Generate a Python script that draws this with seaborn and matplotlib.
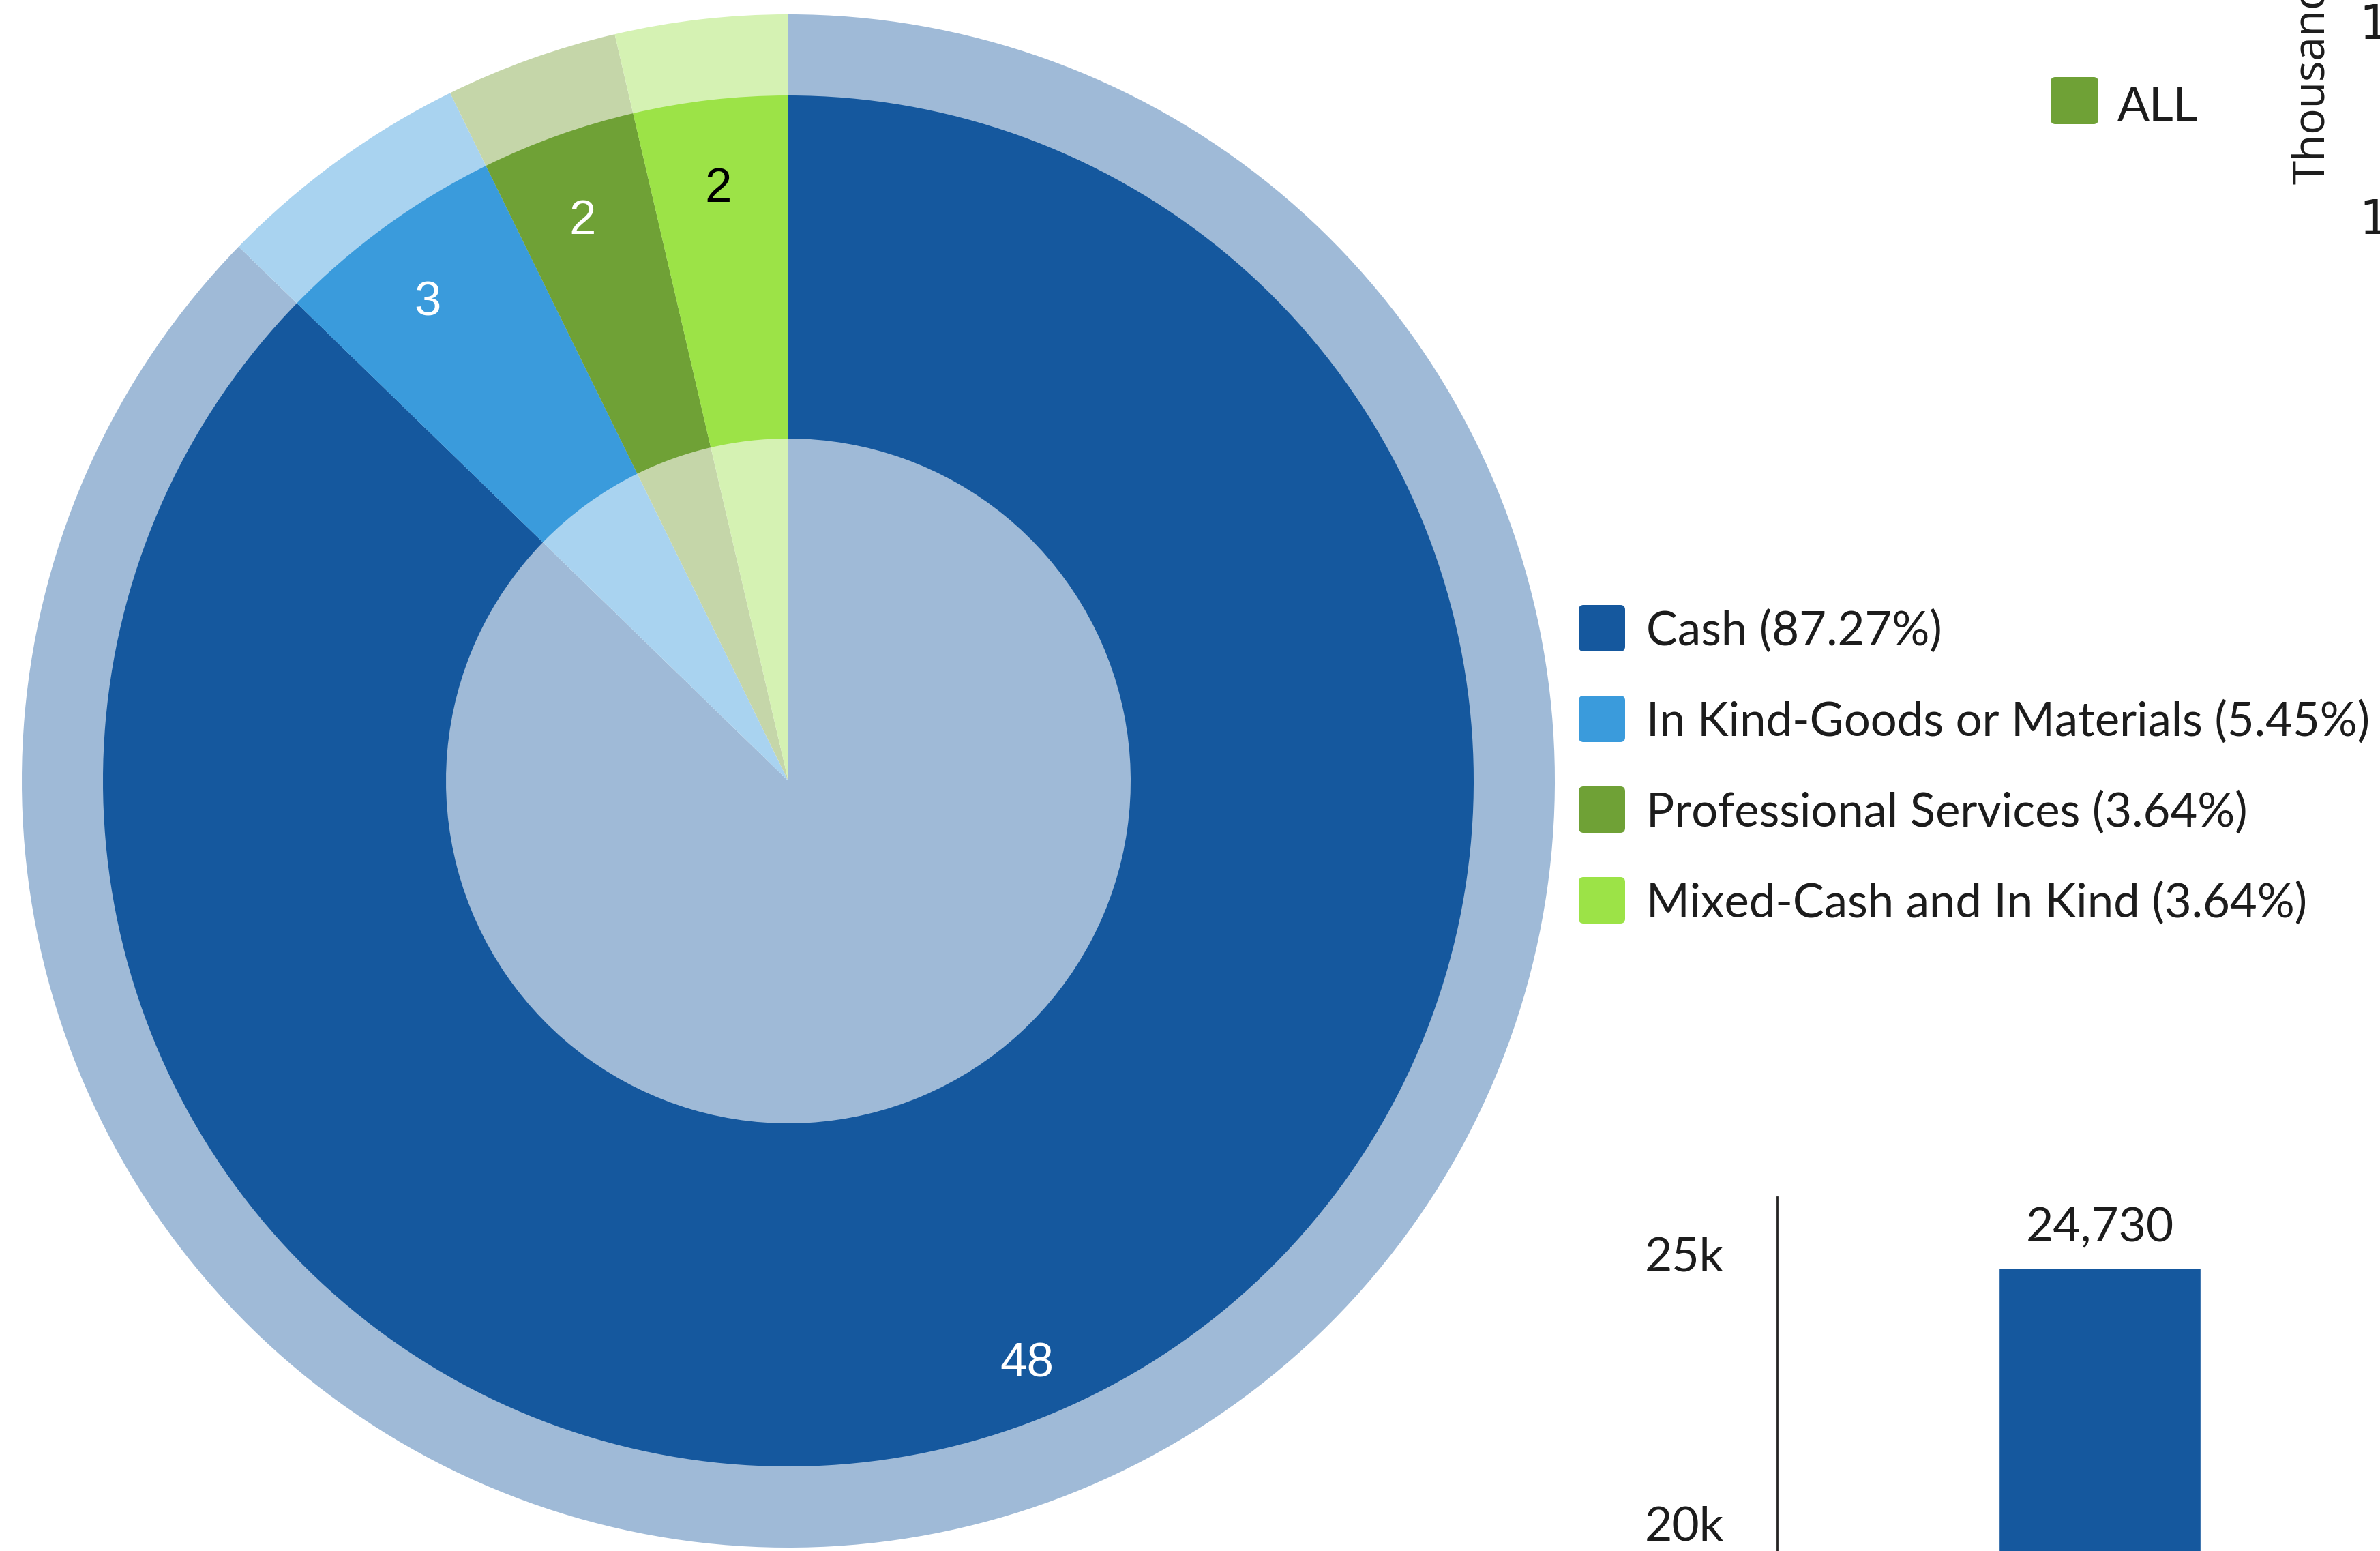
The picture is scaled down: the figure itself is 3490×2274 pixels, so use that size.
import matplotlib
matplotlib.use("Agg")
import matplotlib.pyplot as plt
from matplotlib.patches import FancyBboxPatch
import seaborn as sns

# Donation types (count of gifts)
categories = ["Cash", "In Kind-Goods or Materials", "Professional Services", "Mixed-Cash and In Kind"]
counts = [48, 3, 2, 2]

# Total amount panel
bar_categories = ["ALL"]
bar_values = [24730]
bar_ticks = [20000, 25000]
bar_tick_labels = ["20k", "25k"]

# Neighbouring panel axis (mostly outside the canvas)
top_ticks = [10, 15]
top_tick_labels = ["10", "15"]

dark = ["#15589E", "#3A9BDC", "#6FA136", "#9CE347"]
light = ["#9FBAD7", "#A9D3F0", "#C5D6A9", "#D5F2B3"]
label_colors = ["white", "white", "white", "black"]
text_color = "#1c1c1c"

sns.set_theme(style="white")
plt.rcParams["font.family"] = ["Lato", "DejaVu Sans"]

W, H = 3490, 2274
fig = plt.figure(figsize=(W / 100, H / 100), dpi=100)
fig.patch.set_facecolor("white")


def px_rect(x0, y0, x1, y1):
    """Pixel box (top-left origin) -> figure fraction rect."""
    return [x0 / W, 1 - y1 / H, (x1 - x0) / W, (y1 - y0) / H]


# ---- donut with highlighted rings ----
ax = fig.add_axes([0, 0, 1, 1])
cx, cy = 1156, H - 1145
total = sum(counts)
ax.pie(counts, colors=light, radius=1124, center=(cx, cy), startangle=90,
       counterclock=False, wedgeprops=dict(linewidth=0))
wedges, texts, autotexts = ax.pie(
    counts, colors=dark, radius=1005, center=(cx, cy), startangle=90,
    counterclock=False, wedgeprops=dict(width=503, linewidth=0),
    autopct=lambda p: f"{p * total / 100:.0f}", pctdistance=0.895,
    textprops=dict(fontfamily="Liberation Sans", fontsize=51))
for t, c in zip(autotexts, label_colors):
    t.set_color(c)
    x, y = t.get_position()
    t.set_position((x, y - 27))
ax.set_aspect("auto")
ax.set_xlim(0, W)
ax.set_ylim(0, H)
ax.axis("off")

# ---- legend ----
leg_x, leg_y0, leg_step, sq = 2315, 921, 133, 68
for i, (name, n, col) in enumerate(zip(categories, counts, dark)):
    yc = leg_y0 + i * leg_step
    ax.add_patch(FancyBboxPatch((leg_x, H - yc - sq / 2), sq, sq,
                                boxstyle="round,pad=0,rounding_size=7",
                                facecolor=col, edgecolor="none"))
    ax.text(leg_x + 99, H - yc - 25, f"{name} ({n / total * 100:.2f}%)",
            fontsize=49.5, color=text_color, va="baseline", ha="left")

# "ALL" series key
ax.add_patch(FancyBboxPatch((3007, H - 182), 70, 69,
                            boxstyle="round,pad=0,rounding_size=7",
                            facecolor=dark[2], edgecolor="none"))
ax.text(3105, H - 177, bar_categories[0], fontsize=50, color=text_color,
        va="baseline", ha="left")

# ---- neighbouring chart's value axis ----
ax_top = fig.add_axes(px_rect(3560, -300, 3900, 600))
ax_top.set_ylim(5.035, 20.77)
ax_top.set_yticks(top_ticks, labels=top_tick_labels)
ax_top.set_xticks([])
ax_top.tick_params(axis="y", length=0, pad=9, labelsize=50, labelcolor=text_color)
for lbl in ax_top.get_yticklabels():
    lbl.set_fontfamily("DejaVu Sans")
for s in ax_top.spines.values():
    s.set_visible(False)
fig.text(3408 / W, 1 - 270 / H, "Thousands", rotation=90, rotation_mode="anchor",
         ha="left", va="baseline", fontsize=46, color=text_color,
         fontfamily="Open Sans")

# ---- total amount bar ----
ax_bar = fig.add_axes(px_rect(2606, 1755, 3552, 2274))
ax_bar.set_facecolor("none")
sns.barplot(x=bar_categories, y=bar_values, color=dark[0], saturation=1,
            width=0.8, ax=ax_bar)
ax_bar.set_xlim(-1.278, 1.278)
ax_bar.set_ylim(19481, 26051)
ax_bar.set_yticks(bar_ticks, labels=bar_tick_labels)
ax_bar.set_xticks([])
ax_bar.set_xlabel("")
ax_bar.set_ylabel("")
ax_bar.tick_params(axis="y", length=0, pad=56, labelsize=50, labelcolor=text_color)
for side in ["top", "right", "bottom"]:
    ax_bar.spines[side].set_visible(False)
ax_bar.spines["left"].set_color("#252423")
ax_bar.spines["left"].set_linewidth(2)
ax_bar.bar_label(ax_bar.containers[0], labels=[f"{v:,}" for v in bar_values],
                 padding=20, fontsize=50, color=text_color)

fig.savefig("out.png", dpi=100, facecolor="white")
